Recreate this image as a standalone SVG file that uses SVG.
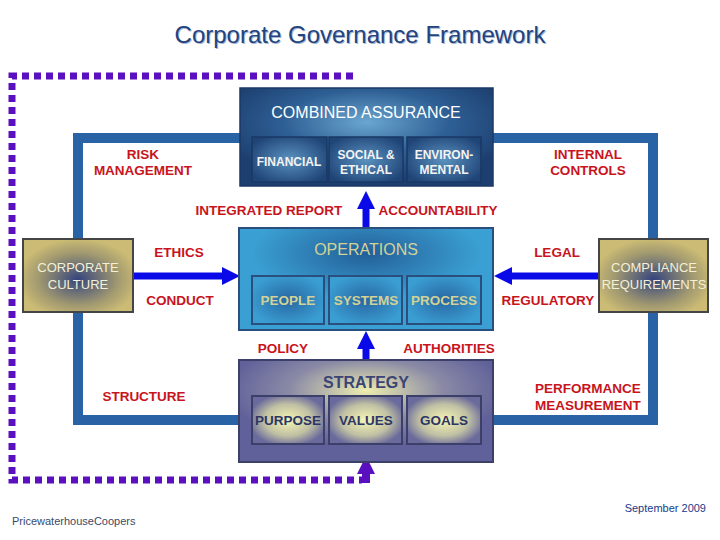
<svg xmlns="http://www.w3.org/2000/svg" width="720" height="540" viewBox="0 0 720 540">
<defs>
<style>
.red{font-family:"Liberation Sans",Arial,sans-serif;font-weight:bold;font-size:13.5px;fill:#c8141c;text-anchor:middle}
.sub{font-family:"Liberation Sans",Arial,sans-serif;font-size:12px;fill:#f4f4f4;text-anchor:middle;font-weight:bold}
.ops{font-family:"Liberation Sans",Arial,sans-serif;font-size:13.5px;font-weight:bold;fill:#d2d296;text-anchor:middle}
.str{font-family:"Liberation Sans",Arial,sans-serif;font-size:13.5px;font-weight:bold;fill:#2c3666;text-anchor:middle}
.cc{font-family:"Liberation Sans",Arial,sans-serif;font-size:13px;fill:#f2f0d6;text-anchor:middle}
.arrow{stroke:#0a0ae8;stroke-width:7;fill:none}
</style>
<radialGradient id="gCA" cx="50%" cy="35%" r="60%">
<stop offset="0" stop-color="#6aa6d0"/><stop offset="0.55" stop-color="#2e5f94"/><stop offset="1" stop-color="#1d3f70"/>
</radialGradient>
<radialGradient id="gCAsub" cx="50%" cy="50%" r="60%">
<stop offset="0" stop-color="#5a92c0"/><stop offset="1" stop-color="#1f4476"/>
</radialGradient>
<radialGradient id="gOps" cx="50%" cy="25%" r="45%">
<stop offset="0" stop-color="#235f98"/><stop offset="1" stop-color="#3a9fd2"/>
</radialGradient>
<radialGradient id="gOpsSub" cx="50%" cy="50%" r="55%">
<stop offset="0" stop-color="#2866a2"/><stop offset="1" stop-color="#3a9ed2"/>
</radialGradient>
<radialGradient id="gStr" cx="50%" cy="30%" r="55%">
<stop offset="0" stop-color="#eeeeb0"/><stop offset="0.55" stop-color="#8a8aa6"/><stop offset="1" stop-color="#60609a"/>
</radialGradient>
<radialGradient id="gStrSub" cx="50%" cy="50%" r="55%">
<stop offset="0" stop-color="#f6f6b4"/><stop offset="0.6" stop-color="#c0c0a4"/><stop offset="1" stop-color="#6a6a9c"/>
</radialGradient>
<radialGradient id="gCC" cx="50%" cy="55%" r="55%">
<stop offset="0" stop-color="#34447e"/><stop offset="0.65" stop-color="#a09870"/><stop offset="1" stop-color="#cbbb74"/>
</radialGradient>
<marker id="head" viewBox="0 0 18 18" refX="0" refY="9" markerWidth="18" markerHeight="18" markerUnits="userSpaceOnUse" orient="auto">
<path d="M0,0 L18,9 L0,18 z" fill="#0a0ae8"/>
</marker>
</defs>
<rect width="720" height="540" fill="#ffffff"/>

<g id="title">
<text x="361" y="44" font-family="Liberation Sans,Arial,sans-serif" font-size="24" fill="#a8b8d0" text-anchor="middle">Corporate Governance Framework</text>
<text x="360" y="43" font-family="Liberation Sans,Arial,sans-serif" font-size="24" fill="#23437e" text-anchor="middle">Corporate Governance Framework</text>
</g>

<g id="frame">
<rect x="78" y="138" width="575" height="282" fill="none" stroke="#2a62a6" stroke-width="10"/>
</g>

<g id="connectors">
<path d="M353,76 H12 V480 H362" fill="none" stroke="#5b10c0" stroke-width="7" stroke-dasharray="7 5"/>
<rect x="362" y="471" width="8" height="12" fill="#5b10c0"/>
<path d="M357,474 L366,456 L375,474 z" fill="#5b10c0"/>
<line class="arrow" x1="133" y1="276" x2="222" y2="276" marker-end="url(#head)"/>
<line class="arrow" x1="599" y1="276" x2="512" y2="276" marker-end="url(#head)"/>
<line class="arrow" x1="366" y1="229" x2="366" y2="209" marker-end="url(#head)"/>
<line class="arrow" x1="366" y1="361" x2="366" y2="349" marker-end="url(#head)"/>
</g>

<g id="combined-assurance">
<rect x="240" y="88" width="253" height="98" fill="url(#gCA)" stroke="#1a3866" stroke-width="1.5"/>
<text x="366" y="118" font-family="Liberation Sans,Arial,sans-serif" font-size="16" fill="#ffffff" text-anchor="middle">COMBINED ASSURANCE</text>
<rect x="252" y="137" width="75" height="45" fill="url(#gCAsub)" stroke="#1a3866" stroke-width="1.5"/>
<rect x="329" y="137" width="74" height="45" fill="url(#gCAsub)" stroke="#1a3866" stroke-width="1.5"/>
<rect x="407" y="137" width="74" height="45" fill="url(#gCAsub)" stroke="#1a3866" stroke-width="1.5"/>
<text class="sub" x="289" y="166">FINANCIAL</text>
<text class="sub" x="366" y="159">SOCIAL &amp;</text>
<text class="sub" x="366" y="174">ETHICAL</text>
<text class="sub" x="444" y="159">ENVIRON-</text>
<text class="sub" x="444" y="174">MENTAL</text>
</g>

<g id="operations">
<rect x="239" y="228" width="254" height="102" fill="url(#gOps)" stroke="#2a4e7e" stroke-width="2"/>
<text x="366" y="255" font-family="Liberation Sans,Arial,sans-serif" font-size="16" fill="#d2d296" text-anchor="middle">OPERATIONS</text>
<rect x="252" y="276" width="72" height="48" fill="url(#gOpsSub)" stroke="#2a4e7e" stroke-width="2"/>
<rect x="329" y="276" width="73" height="48" fill="url(#gOpsSub)" stroke="#2a4e7e" stroke-width="2"/>
<rect x="407" y="276" width="74" height="48" fill="url(#gOpsSub)" stroke="#2a4e7e" stroke-width="2"/>
<text class="ops" x="288" y="305">PEOPLE</text>
<text class="ops" x="366" y="305">SYSTEMS</text>
<text class="ops" x="444" y="305">PROCESS</text>
</g>

<g id="strategy">
<rect x="239" y="360" width="254" height="102" fill="url(#gStr)" stroke="#3c4068" stroke-width="2"/>
<text x="366" y="388" font-family="Liberation Sans,Arial,sans-serif" font-size="16" font-weight="bold" fill="#3a4575" text-anchor="middle">STRATEGY</text>
<rect x="252" y="396" width="72" height="48" fill="url(#gStrSub)" stroke="#3c4068" stroke-width="2"/>
<rect x="329" y="396" width="73" height="48" fill="url(#gStrSub)" stroke="#3c4068" stroke-width="2"/>
<rect x="407" y="396" width="74" height="48" fill="url(#gStrSub)" stroke="#3c4068" stroke-width="2"/>
<text class="str" x="288" y="425">PURPOSE</text>
<text class="str" x="366" y="425">VALUES</text>
<text class="str" x="444" y="425">GOALS</text>
</g>

<g id="corporate-culture">
<rect x="23" y="239" width="110" height="73" fill="url(#gCC)" stroke="#454545" stroke-width="2"/>
<text class="cc" x="78" y="272">CORPORATE</text>
<text class="cc" x="78" y="289">CULTURE</text>
</g>

<g id="compliance-requirements">
<rect x="599" y="239" width="109" height="73" fill="url(#gCC)" stroke="#454545" stroke-width="2"/>
<text class="cc" x="654" y="272">COMPLIANCE</text>
<text class="cc" x="654" y="289">REQUIREMENTS</text>
</g>

<g id="labels">
<text class="red" x="143" y="159">RISK</text>
<text class="red" x="143" y="175">MANAGEMENT</text>
<text class="red" x="588" y="159">INTERNAL</text>
<text class="red" x="588" y="175">CONTROLS</text>
<text class="red" x="269" y="215">INTEGRATED REPORT</text>
<text class="red" x="438" y="215">ACCOUNTABILITY</text>
<text class="red" x="179" y="257">ETHICS</text>
<text class="red" x="180" y="305">CONDUCT</text>
<text class="red" x="557" y="257">LEGAL</text>
<text class="red" x="548" y="305">REGULATORY</text>
<text class="red" x="283" y="353">POLICY</text>
<text class="red" x="449" y="353">AUTHORITIES</text>
<text class="red" x="144" y="401">STRUCTURE</text>
<text class="red" x="588" y="393">PERFORMANCE</text>
<text class="red" x="588" y="410">MEASUREMENT</text>
</g>

<g id="footer">
<text x="706" y="512" font-family="Liberation Sans,Arial,sans-serif" font-size="11" fill="#1a3a8a" text-anchor="end">September 2009</text>
<text x="12" y="525" font-family="Liberation Sans,Arial,sans-serif" font-size="11" fill="#3a4a6a">PricewaterhouseCoopers</text>
</g>
</svg>
